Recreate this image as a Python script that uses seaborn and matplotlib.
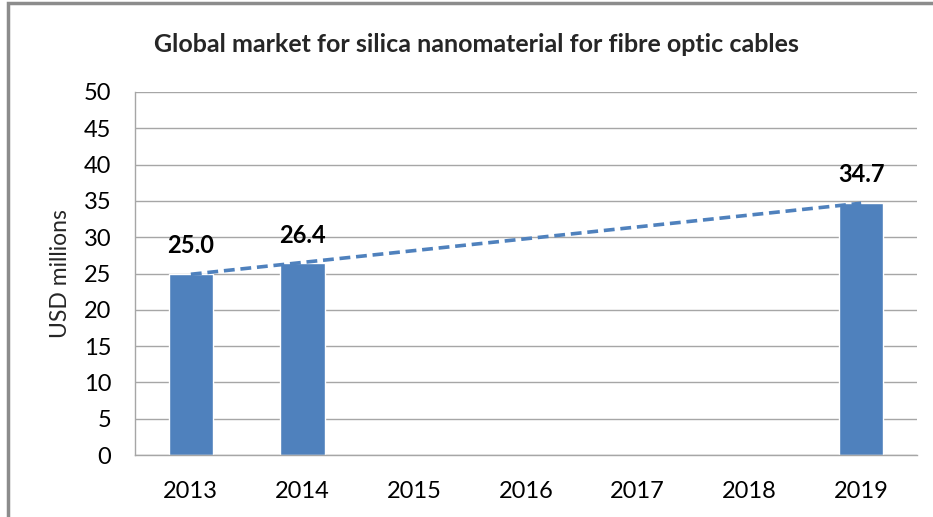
import numpy as np
import pandas as pd
import matplotlib
matplotlib.use("Agg")
import matplotlib.pyplot as plt
import seaborn as sns
from matplotlib.patches import Rectangle

# --- data ---
YEARS = ["2013", "2014", "2015", "2016", "2017", "2018", "2019"]
BAR_YEARS = ["2013", "2014", "2019"]
BAR_VALUES = [25.0, 26.4, 34.7]
Y_TICKS = [0, 5, 10, 15, 20, 25, 30, 35, 40, 45, 50]

TITLE = "Global market for silica nanomaterial for fibre optic cables"
YLABEL = "USD millions"
BLUE = "#4F81BD"
GRID = "#A6A6A6"

sns.set_style("white")
plt.rcParams["font.family"] = ["Lato", "DejaVu Sans"]

df = pd.DataFrame({"year": BAR_YEARS, "value": BAR_VALUES})

W, H = 933, 517
fig = plt.figure(figsize=(W / 100, H / 100), dpi=100)
fig.patch.set_facecolor("white")

# outer chart frame (only left/top edges visible in the screenshot)
fig.add_artist(Rectangle((8 / W, -0.05), 1.1, (H - 3) / H + 0.05, transform=fig.transFigure,
                         fill=False, edgecolor="#8C8C8C", linewidth=2.5))

ax = fig.add_axes([135 / W, (H - 455) / H, 782 / W, 363 / H])
sns.barplot(data=df, x="year", y="value", order=YEARS, color=BLUE, width=0.4,
            saturation=1, ax=ax, errorbar=None)

# linear trendline through the bar values
xs = np.array([YEARS.index(y) for y in BAR_YEARS])
k, b = np.polyfit(xs, BAR_VALUES, 1)
tx = np.array([xs.min(), xs.max()])
ax.plot(tx, k * tx + b, linestyle=(0, (3, 1.6)), color=BLUE, linewidth=2.6, zorder=3)

for x, v in zip(xs, BAR_VALUES):
    ax.annotate(f"{v:.1f}", (x, v), xytext=(0, 12), textcoords="offset points",
                ha="center", va="bottom", fontsize=17, fontweight="bold", color="black")

ax.set_ylim(0, 50)
ax.set_yticks(Y_TICKS)
ax.set_xlim(-0.5, len(YEARS) - 0.5)
ax.yaxis.grid(True, color=GRID, linewidth=1)
ax.set_axisbelow(True)
for s in ["top", "right"]:
    ax.spines[s].set_visible(False)
for s in ["left", "bottom"]:
    ax.spines[s].set_color(GRID)
    ax.spines[s].set_linewidth(1)
ax.tick_params(axis="both", length=0, labelsize=17, colors="black")
ax.tick_params(axis="x", pad=19)
ax.tick_params(axis="y", pad=17)
ax.set_xlabel("")
ax.set_ylabel(YLABEL, fontsize=16.5, labelpad=9)

fig.text(476 / W, 1 - 44 / H, TITLE, ha="center", va="center", fontsize=18, fontweight="bold")

fig.savefig("out.png", dpi=100)
